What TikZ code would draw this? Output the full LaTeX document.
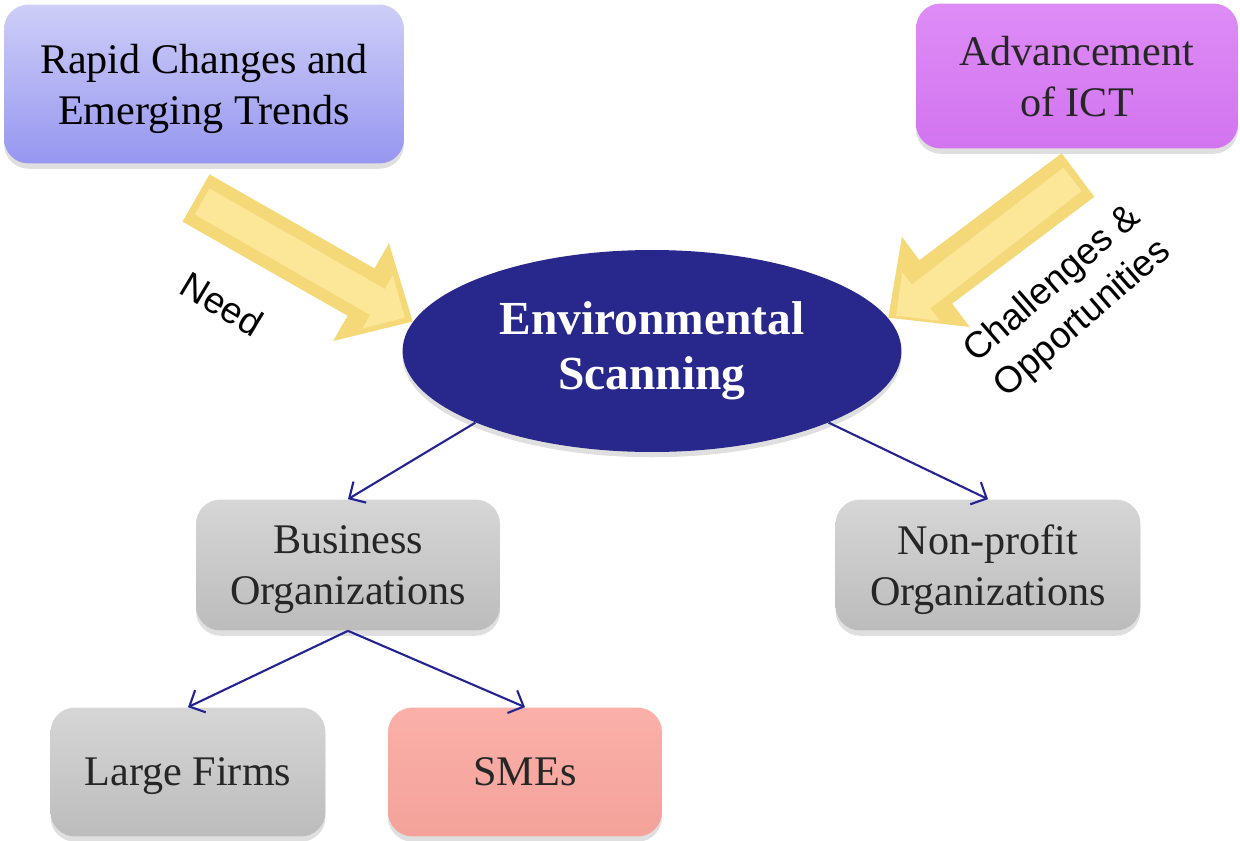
\documentclass[tikz,border=0pt]{standalone}
\usepackage{fontspec}
\setmainfont{Liberation Serif}
\newfontfamily\labelfont{Liberation Sans}
\usetikzlibrary{positioning, arrows.meta, shadows, shapes.geometric}
\definecolor{navy}{RGB}{40,40,140}
\definecolor{linkblue}{RGB}{35,35,145}
\definecolor{boxtext}{RGB}{38,38,38}
\definecolor{needyellow}{RGB}{245,216,120}
\definecolor{ridgeyellow}{RGB}{252,230,152}
\tikzset{
x=0.02cm, y=-0.02cm, % one unit is one pixel of the reference
box/.style={rectangle, rounded corners=14pt, align=center, text=boxtext,
  font=\fontsize{24}{29}\selectfont,
  text depth=-3pt, % pushes the text a little down
  drop shadow={shadow xshift=0pt, shadow yshift=-3pt, opacity=0.25}}, % rounded boxes
grey/.style={box, top color={rgb,255:red,214;green,214;blue,214}, bottom color={rgb,255:red,188;green,188;blue,188}},
link/.style={draw=linkblue, line width=1.2pt, -{Straight Barb[length=7pt, width=14pt]}}, % thin blue arrows
bigarrow/.style={draw=needyellow, line width=31pt, -{Triangle[length=34pt, width=62pt]}}, % fat yellow arrows
ridge/.style={draw=ridgeyellow, line width=17pt, shorten <=4pt, -{Triangle[length=18pt, width=34pt]}}, % lighter face on top
slanted/.style={font=\labelfont\fontsize{21}{26}\selectfont, align=center},
}

\begin{document}
\begin{tikzpicture}
        \useasboundingbox (0,0) rectangle (1240,841);

        \node[box, text=black, minimum width=8cm, minimum height=3.18cm,
          top color={rgb,255:red,206;green,206;blue,248}, bottom color={rgb,255:red,150;green,150;blue,240}]
          (rapid) at (204,84) {Rapid Changes and\\Emerging Trends};
        \node[box, minimum width=6.44cm, minimum height=2.9cm,
          top color={rgb,255:red,222;green,140;blue,246}, bottom color={rgb,255:red,210;green,116;blue,240}]
          (ict) at (1077,76) {Advancement\\of ICT};
        \node[ellipse, fill=navy, minimum width=9.98cm, minimum height=4.04cm, inner sep=0pt,
          text=white, font=\bfseries\fontsize{27}{31}\selectfont, align=center,
          drop shadow={shadow xshift=0pt, shadow yshift=-3pt, opacity=0.25}]
          (env) at (652,351) {Environmental\\Scanning};
        \node[grey, minimum width=6.08cm, minimum height=2.62cm] (bus) at (348,565) {Business\\Organizations};
        \node[grey, minimum width=6.1cm, minimum height=2.62cm] (npo) at (988,565) {Non-profit\\Organizations};
        \node[grey, minimum width=5.5cm, minimum height=2.58cm] (large) at (188,772) {Large Firms};
        \node[box, minimum width=5.48cm, minimum height=2.58cm,
          top color={rgb,255:red,250;green,176;blue,168}, bottom color={rgb,255:red,244;green,162;blue,154}]
          (sme) at (525,772) {SMEs};

        \coordinate (needtail) at (196,198);
        \coordinate (icttail) at (1078,175);
        \draw[bigarrow] (needtail) -- (env.173);
        \draw[bigarrow] (icttail) -- (env.8);
        \draw[ridge] (needtail) -- ([shift={(-8,-4)}]env.173);
        \draw[ridge] (icttail) -- ([shift={(8,-2)}]env.8);

        \node[slanted, rotate=-31] (need) at (222,304) {Need};
        \node[slanted, rotate=41] (chal) at (1068,302) {Challenges \&\\Opportunities};

        \draw[link] (env.south west) -- (bus.north);
        \draw[link] (env.south east) -- (npo.north);
        \draw[link] (bus.south) -- (large.north);
        \draw[link] (bus.south) -- (sme.north);
\end{tikzpicture}
\end{document}
